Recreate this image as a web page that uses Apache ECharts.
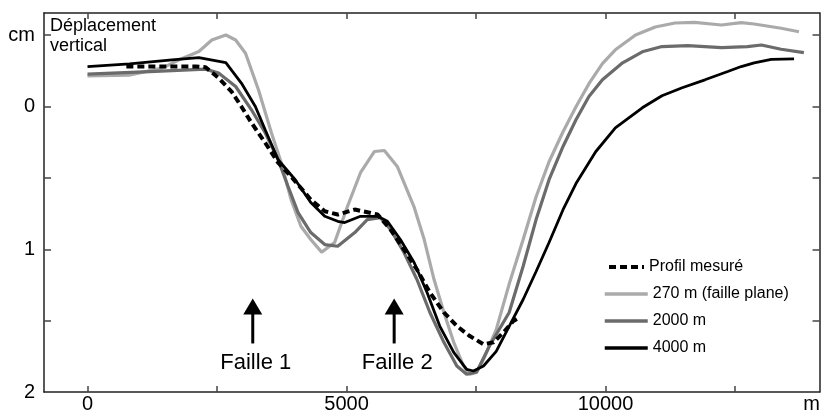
<!DOCTYPE html>
<html>
<head>
<meta charset="utf-8">
<script src="https://cdn.jsdelivr.net/npm/echarts@6/dist/echarts.min.js"></script>
<style>
html,body{margin:0;padding:0;background:#fff;}
#chart{width:823px;height:414px;}
</style>
</head>
<body>
<div id="chart"></div>
<script>
// ---- data (x in m, vertical displacement in cm; positive = downward) ----
const seriesNames = ['Profil mesuré', '270 m (faille plane)', '2000 m', '4000 m'];

const profilMesure = [[750,-0.28],[2090,-0.28],[2280,-0.275],[2530,-0.2],[2780,-0.105],[2970,0],[3165,0.114],[3430,0.254],[3680,0.394],[3930,0.49],[4310,0.652],[4580,0.734],[4830,0.757],[5160,0.722],[5600,0.757],[5850,0.862],[6110,1.002],[6360,1.142],[6610,1.303],[6880,1.443],[7130,1.538],[7380,1.608],[7645,1.666],[7840,1.652],[8030,1.583],[8220,1.503],[8335,1.478]];

const model270 = [[0,-0.215],[800,-0.22],[1440,-0.269],[1770,-0.327],[2150,-0.385],[2400,-0.466],[2670,-0.501],[2860,-0.466],[3050,-0.373],[3300,-0.117],[3550,0.184],[3740,0.394],[3930,0.652],[4120,0.839],[4310,0.932],[4520,1.02],[4770,0.953],[5020,0.699],[5270,0.464],[5540,0.315],[5730,0.308],[5980,0.42],[6300,0.699],[6500,0.932],[6690,1.212],[6880,1.443],[7070,1.652],[7260,1.818],[7380,1.876],[7510,1.862],[7645,1.771],[7890,1.563],[8140,1.244],[8410,0.932],[8660,0.632],[8910,0.387],[9180,0.177],[9430,0.002],[9680,-0.16],[9940,-0.3],[10190,-0.397],[10580,-0.501],[10960,-0.557],[11340,-0.585],[11720,-0.589],[12240,-0.571],[12620,-0.587],[12870,-0.578],[13390,-0.548],[13735,-0.524]];

const model2000 = [[0,-0.227],[1200,-0.245],[2280,-0.262],[2530,-0.234],[2860,-0.14],[3165,0.023],[3430,0.184],[3680,0.373],[3870,0.559],[4065,0.743],[4310,0.883],[4580,0.967],[4830,0.979],[5160,0.883],[5400,0.792],[5650,0.778],[5850,0.862],[6110,1.023],[6360,1.212],[6610,1.443],[6880,1.652],[7130,1.818],[7320,1.876],[7510,1.862],[7760,1.678],[8140,1.443],[8410,1.119],[8660,0.792],[8910,0.513],[9180,0.28],[9430,0.093],[9680,-0.07],[9940,-0.187],[10330,-0.306],[10710,-0.383],[11090,-0.42],[11590,-0.427],[12240,-0.413],[12740,-0.42],[13010,-0.431],[13390,-0.401],[13830,-0.378]];

const model4000 = [[0,-0.28],[810,-0.299],[1630,-0.327],[2150,-0.343],[2670,-0.308],[2970,-0.164],[3240,0],[3430,0.163],[3680,0.373],[4010,0.513],[4310,0.673],[4580,0.769],[4830,0.804],[4965,0.813],[5270,0.769],[5600,0.769],[5790,0.804],[6040,0.932],[6305,1.093],[6555,1.303],[6800,1.538],[7070,1.722],[7320,1.841],[7450,1.853],[7645,1.818],[7890,1.715],[8140,1.54],[8410,1.352],[8660,1.156],[8910,0.953],[9180,0.723],[9430,0.54],[9810,0.317],[10190,0.149],[10710,0.009],[11090,-0.075],[11480,-0.131],[11920,-0.187],[12360,-0.245],[12620,-0.28],[12870,-0.306],[13200,-0.33],[13640,-0.334]];

const xTicks = [0, 2500, 5000, 7500, 10000, 12500];
const xLabels = [0, 5000, 10000];
const xUnit = 'm';
const yTicks = [-0.5, 0, 0.5, 1, 1.5];
const yLabels = [-0.5, 0, 1, 2];
const yUnit = 'cm';
const yTitle = 'Déplacement\nvertical';
const faults = [{name: 'Faille 1', x: 3190}, {name: 'Faille 2', x: 5920}];

// ---- chart ----
const FONT = 'Liberation Sans, Arial, Helvetica, sans-serif';
const chart = echarts.init(document.getElementById('chart'), null, {renderer: 'canvas'});
const X_MIN = -840, X_MAX = 14132, Y_MIN = -0.655, Y_MAX = 2;
const UNIT_POS = 13980;

const axisLineStyle = {color: '#222', width: 1.5};
const tickStyle = {color: '#444', width: 1.5};
const legendText = {color: '#000', fontSize: 16, fontFamily: FONT, lineHeight: 18};

const option = {
  animation: false,
  backgroundColor: '#fff',
  grid: {left: 44, right: -3, top: 13, bottom: 21, containLabel: false},
  xAxis: [{
    type: 'value', position: 'bottom', min: X_MIN, max: X_MAX,
    axisLine: {show: true, onZero: false, lineStyle: axisLineStyle},
    axisTick: {show: true, inside: true, length: 6, customValues: xTicks, lineStyle: tickStyle},
    axisLabel: {
      show: true, customValues: xLabels.concat([UNIT_POS]), margin: 2,
      color: '#000', fontSize: 20, fontFamily: FONT,
      formatter: v => (v === UNIT_POS ? xUnit : String(v))
    },
    splitLine: {show: false}
  }, {
    type: 'value', position: 'top', min: X_MIN, max: X_MAX,
    axisLine: {show: true, onZero: false, lineStyle: axisLineStyle},
    axisTick: {show: true, inside: true, length: 6, customValues: xTicks, lineStyle: tickStyle},
    axisLabel: {show: false},
    splitLine: {show: false}
  }],
  yAxis: [{
    type: 'value', position: 'left', inverse: true, min: Y_MIN, max: Y_MAX,
    axisLine: {show: true, onZero: false, lineStyle: axisLineStyle},
    axisTick: {show: true, inside: true, length: 7, customValues: yTicks, lineStyle: tickStyle},
    axisLabel: {
      show: true, customValues: yLabels, margin: 9,
      color: '#000', fontSize: 20, fontFamily: FONT,
      formatter: v => (v === -0.5 ? yUnit : String(v))
    },
    splitLine: {show: false}
  }, {
    type: 'value', position: 'right', inverse: true, min: Y_MIN, max: Y_MAX,
    axisLine: {show: true, onZero: false, lineStyle: axisLineStyle},
    axisTick: {show: true, inside: true, length: 7, customValues: yTicks, lineStyle: tickStyle},
    axisLabel: {show: false},
    splitLine: {show: false}
  }],
  legend: [{
    data: [seriesNames[0]],
    orient: 'vertical', left: 607, top: 258, padding: 0,
    itemWidth: 35, itemHeight: 1, itemGap: 9,
    lineStyle: {width: 4},
    textStyle: legendText,
    selectedMode: false
  }, {
    data: seriesNames.slice(1),
    orient: 'vertical', left: 603, top: 285, padding: 0,
    itemWidth: 43, itemHeight: 1, itemGap: 9,
    lineStyle: {width: 3.5},
    textStyle: legendText,
    selectedMode: false
  }],
  series: [
    {name: seriesNames[1], type: 'line', data: model270, symbol: 'none', z: 2,
     lineStyle: {color: '#aaaaaa', width: 3.2}, itemStyle: {color: '#aaaaaa'}},
    {name: seriesNames[2], type: 'line', data: model2000, symbol: 'none', z: 3,
     lineStyle: {color: '#6b6b6b', width: 3.2}, itemStyle: {color: '#6b6b6b'}},
    {name: seriesNames[3], type: 'line', data: model4000, symbol: 'none', z: 4,
     lineStyle: {color: '#000000', width: 2.8}, itemStyle: {color: '#000000'}},
    {name: seriesNames[0], type: 'line', data: profilMesure, symbol: 'none', z: 5,
     lineStyle: {color: '#000000', width: 4, type: [7, 4]}, itemStyle: {color: '#000000'}}
  ]
};
chart.setOption(option);

// Title text inside plot + fault annotations (positioned from data coords)
const graphics = [{
  type: 'text', left: 50, top: 16,
  style: {text: yTitle, fontSize: 18, lineHeight: 20, fontFamily: FONT, fill: '#000'}
}];
faults.forEach(f => {
  const tip = chart.convertToPixel({xAxisIndex: 0, yAxisIndex: 0}, [f.x, 1.345]);
  const base = chart.convertToPixel({xAxisIndex: 0, yAxisIndex: 0}, [f.x, 1.457]);
  const stemEnd = chart.convertToPixel({xAxisIndex: 0, yAxisIndex: 0}, [f.x, 1.66]);
  const lab = chart.convertToPixel({xAxisIndex: 0, yAxisIndex: 0}, [f.x, 1.795]);
  graphics.push({
    type: 'polygon',
    shape: {points: [[tip[0], tip[1]], [tip[0] - 9.5, base[1]], [tip[0] + 9.5, base[1]]]},
    style: {fill: '#000'}
  });
  graphics.push({
    type: 'line',
    shape: {x1: tip[0], y1: base[1] - 1, x2: tip[0], y2: stemEnd[1]},
    style: {stroke: '#000', lineWidth: 3}
  });
  graphics.push({
    type: 'text', x: lab[0] + 3, y: lab[1],
    style: {text: f.name, fontSize: 22, fontFamily: FONT, fill: '#000', align: 'center', verticalAlign: 'middle'}
  });
});
chart.setOption({graphic: graphics});
</script>
</body>
</html>
